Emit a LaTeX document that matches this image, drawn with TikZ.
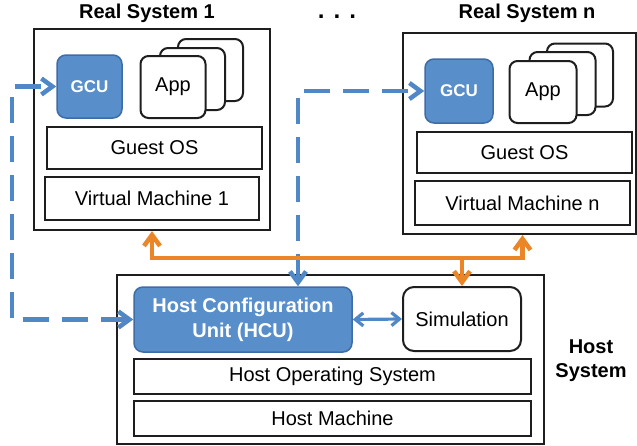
\documentclass[tikz,border=0pt]{standalone}
\usepackage{fontspec}
\setmainfont{Liberation Sans}
\newfontfamily\dotfont{DejaVu Sans}
\usetikzlibrary{arrows.meta}
\definecolor{gfill}{RGB}{88,142,202}
\definecolor{gline}{RGB}{62,108,165}
\definecolor{bline}{RGB}{80,136,199}
\definecolor{oline}{RGB}{234,133,40}
\definecolor{bord}{RGB}{30,30,30}
\begin{document}
\begin{tikzpicture}[x=1pt,y=-1pt,
  every node/.style={font=\fontsize{20}{24}\selectfont},
  outer/.style={draw=bord, line width=2.2pt, inner sep=0pt},
  layer/.style={draw=bord, line width=2pt, fill=white, inner sep=0pt},
  card/.style={draw=bord, line width=2pt, fill=white, rounded corners=8pt, inner sep=0pt},
  unit/.style={draw=gline, line width=1.5pt, fill=gfill, rounded corners=9pt, text=white, inner sep=0pt},
  ttl/.style={font=\bfseries\fontsize{20}{24}\selectfont},
  tip/.tip={Straight Barb[length=11pt,width=16pt]},
  stip/.tip={Straight Barb[length=8pt,width=13pt]},
  barr/.style={draw=bline, line width=4.5pt},
  bdash/.style={barr, dash pattern=on 26pt off 13pt},
  oarr/.style={draw=oline, line width=4.5pt}
]
\useasboundingbox (0,0) rectangle (637,445);

% titles
\node[ttl] (t1) at (147,13) {Real System 1};
\node[ttl] (tn) at (527,13) {Real System n};
\node[font=\dotfont\bfseries\fontsize{19}{19}\selectfont, anchor=base, inner sep=0pt,
      text height=5pt, text depth=0pt] (dots) at (337,18.5) {.\hspace{8.6pt}.\hspace{8.6pt}.};

% Real System 1
\node[outer, minimum width=236pt, minimum height=201pt] (rs1) at (152,129.5) {};
\node[card, minimum width=65pt, minimum height=62pt] (app1c) at (210.5,70) {};
\node[card, minimum width=65pt, minimum height=62pt] (app1b) at (192.5,79) {};
\node[card, minimum width=65pt, minimum height=62pt] (app1) at (173,87) {App};
\node[unit, minimum width=65pt, minimum height=63pt, font=\bfseries\fontsize{17}{20}\selectfont] (gcu1) at (89.5,86.5) {GCU};
\node[layer, minimum width=215pt, minimum height=42pt] (gos1) at (154.5,148) {Guest OS};
\node[layer, minimum width=214pt, minimum height=43pt] (vm1) at (152,198.5) {Virtual Machine 1};

% Real System n
\node[outer, minimum width=233pt, minimum height=201pt] (rsn) at (519.5,133.5) {};
\node[card, minimum width=66pt, minimum height=63pt] (appnc) at (580,75) {};
\node[card, minimum width=66pt, minimum height=63pt] (appnb) at (562.5,83.5) {};
\node[card, minimum width=67pt, minimum height=62pt] (appn) at (543,92) {App};
\node[unit, minimum width=68pt, minimum height=64pt, font=\bfseries\fontsize{17}{20}\selectfont] (gcun) at (459,91) {GCU};
\node[layer, minimum width=215pt, minimum height=41pt] (gosn) at (524.5,152.5) {Guest OS};
\node[layer, minimum width=215pt, minimum height=44pt] (vmn) at (522.5,203) {Virtual Machine n};

% Host system
\node[outer, minimum width=427pt, minimum height=169pt] (host) at (330.5,359.5) {};
\node[unit, minimum width=218pt, minimum height=65pt, align=center,
      font=\bfseries\fontsize{20}{25}\selectfont] (hcu) at (243,319.5) {Host Configuration\\Unit (HCU)};
\node[card, rounded corners=11pt, minimum width=118pt, minimum height=64pt] (sim) at (462,319) {Simulation};
\node[layer, minimum width=397pt, minimum height=35pt] (hos) at (332.5,376.5) {Host Operating System};
\node[layer, minimum width=397pt, minimum height=35pt] (hm) at (332.5,418.5) {Host Machine};
\node[ttl, align=center, font=\bfseries\fontsize{20}{24}\selectfont] (hlbl) at (591,361) {Host\\System};

% blue connectors
\coordinate (lx) at (12,0);
\coordinate (tx) at (298,0);
\draw[bdash, tip-tip] (hcu.west) -- (lx |- hcu.west) -- (lx |- gcu1.west) -- (gcu1.west);
\draw[bdash, tip-tip] (tx |- hcu.north) -- (tx |- gcun.west) -- (gcun.west);
\draw[barr, line width=3.2pt, stip-stip] (hcu.east) -- (sim.west);

% orange connectors
\coordinate (bus) at (0,258);
\coordinate (rsnb) at ([xshift=3pt]rsn.south);
\draw[oarr, tip-tip] (rs1.south) -- (rs1.south |- bus) -- (rsnb |- bus) -- (rsnb);
\draw[oarr, -tip] (sim.north |- bus) -- (sim.north);
\end{tikzpicture}
\end{document}
